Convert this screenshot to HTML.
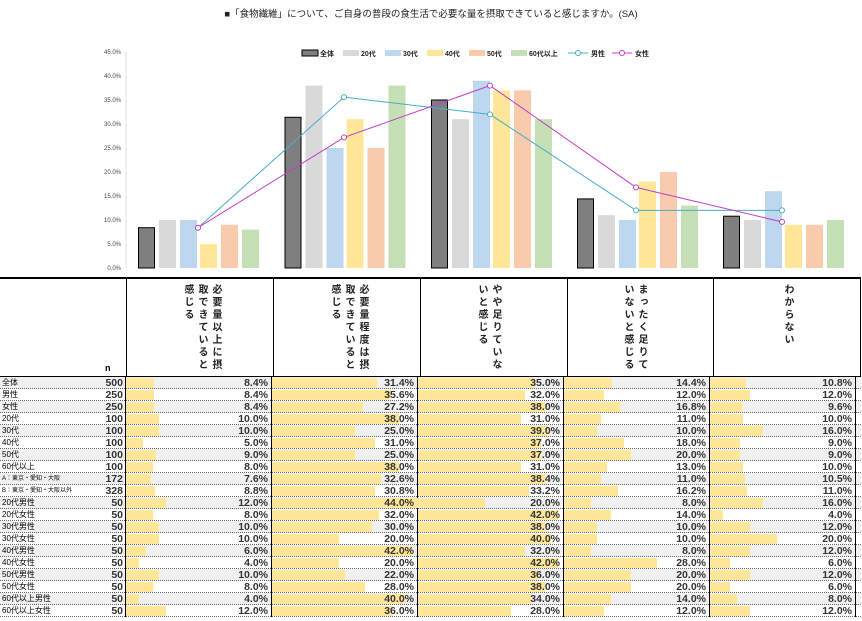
<!DOCTYPE html>
<html><head><meta charset="utf-8"><style>
body{margin:0;width:862px;height:619px;background:#fff;position:relative;overflow:hidden;font-family:"Liberation Sans","Noto Sans CJK JP",sans-serif}
#tbl{position:absolute;left:0;top:277px;width:861px;height:342px;border-top:2px solid #000}
.hd{position:absolute;left:0;top:0;width:861px;height:98px;border-bottom:1px solid #000;box-sizing:border-box}
.hc{position:absolute;top:5px;writing-mode:vertical-rl;font-size:10px;letter-spacing:2.5px;font-weight:bold;line-height:14px;height:88px;color:#222}
.r{position:absolute;left:0;width:861px;height:12px;display:flex;font-size:10.5px;line-height:12px}
.r:after{content:"";position:absolute;left:0;right:0;bottom:0;height:1px;background:repeating-linear-gradient(90deg,#666 0 1px,transparent 1px 2px)}
.r.g{background:#f0f0f0}
.l{width:93px;height:12px;font-size:8px;padding-left:2px;box-sizing:border-box;white-space:nowrap;overflow:hidden}
.n{width:33px;height:12px;text-align:right;padding-right:2px;box-sizing:border-box;border-right:1px solid #000;font-weight:bold;color:#333}
.c{width:146px;height:12px;position:relative;border-right:1px solid #000;text-align:right;font-weight:bold;color:#333;padding-right:3px;box-sizing:border-box}
.c i{position:absolute;left:0;top:1px;height:10px;background:#ffe699;z-index:0}
.c b{position:relative;z-index:1}
.vl{position:absolute;top:0;height:98px;border-left:1px solid #000}
</style></head><body>
<div style="position:absolute;left:0;top:6px;width:862px;text-align:center;font-size:9.5px;color:#222">■「食物繊維」について、ご自身の普段の食生活で必要な量を摂取できていると感じますか。(SA)</div>
<svg width="862" height="277" style="position:absolute;left:0;top:0" font-family="Liberation Sans" font-size="6" fill="#444">
<g text-anchor="end">
<text x="121" y="270">0.0%</text><text x="121" y="246">5.0%</text><text x="121" y="222">10.0%</text><text x="121" y="198">15.0%</text><text x="121" y="174">20.0%</text><text x="121" y="150">25.0%</text><text x="121" y="126">30.0%</text><text x="121" y="102">35.0%</text><text x="121" y="78">40.0%</text><text x="121" y="54">45.0%</text></g>
<line x1="126" y1="52" x2="126" y2="268" stroke="#ddd"/>
<g id="b">
<rect x="138.5" y="227.7" width="16" height="40.3" fill="#7f7f7f" stroke="#000"/><rect x="159" y="220" width="17" height="48" fill="#d9d9d9"/><rect x="180" y="220" width="17" height="48" fill="#bdd7ee"/><rect x="200" y="244" width="17" height="24" fill="#ffe699"/><rect x="221" y="224.8" width="17" height="43.2" fill="#f8cbad"/><rect x="242" y="229.6" width="17" height="38.4" fill="#c5e0b4"/>
<rect x="285" y="117.3" width="16" height="150.7" fill="#7f7f7f" stroke="#000"/><rect x="305.5" y="85.6" width="17" height="182.4" fill="#d9d9d9"/><rect x="326.5" y="148" width="17" height="120" fill="#bdd7ee"/><rect x="346.5" y="119.2" width="17" height="148.8" fill="#ffe699"/><rect x="367.5" y="148" width="17" height="120" fill="#f8cbad"/><rect x="388.5" y="85.6" width="17" height="182.4" fill="#c5e0b4"/>
<rect x="431.5" y="100" width="16" height="168" fill="#7f7f7f" stroke="#000"/><rect x="452" y="119.2" width="17" height="148.8" fill="#d9d9d9"/><rect x="473" y="80.8" width="17" height="187.2" fill="#bdd7ee"/><rect x="493" y="90.4" width="17" height="177.6" fill="#ffe699"/><rect x="514" y="90.4" width="17" height="177.6" fill="#f8cbad"/><rect x="535" y="119.2" width="17" height="148.8" fill="#c5e0b4"/>
<rect x="577.5" y="198.9" width="16" height="69.1" fill="#7f7f7f" stroke="#000"/><rect x="598" y="215.2" width="17" height="52.8" fill="#d9d9d9"/><rect x="619" y="220" width="17" height="48" fill="#bdd7ee"/><rect x="639" y="181.6" width="17" height="86.4" fill="#ffe699"/><rect x="660" y="172" width="17" height="96" fill="#f8cbad"/><rect x="681" y="205.6" width="17" height="62.4" fill="#c5e0b4"/>
<rect x="723.5" y="216.2" width="16" height="51.8" fill="#7f7f7f" stroke="#000"/><rect x="744" y="220" width="17" height="48" fill="#d9d9d9"/><rect x="765" y="191.2" width="17" height="76.8" fill="#bdd7ee"/><rect x="785" y="224.8" width="17" height="43.2" fill="#ffe699"/><rect x="806" y="224.8" width="17" height="43.2" fill="#f8cbad"/><rect x="827" y="220" width="17" height="48" fill="#c5e0b4"/>
</g>
<polyline points="198,227.7 344,97.1 490,114.4 636,210.4 782,210.4" fill="none" stroke="#4bacc6" stroke-width="1"/>
<polyline points="198,227.7 344,137.4 490,85.6 636,187.4 782,221.9" fill="none" stroke="#c040c8" stroke-width="1"/>
<g fill="#fff" stroke="#4bacc6"><circle cx="198" cy="227.7" r="2.5"/><circle cx="344" cy="97.1" r="2.5"/><circle cx="490" cy="114.4" r="2.5"/><circle cx="636" cy="210.4" r="2.5"/><circle cx="782" cy="210.4" r="2.5"/></g>
<g fill="#fff" stroke="#c040c8"><circle cx="198" cy="227.7" r="2.5"/><circle cx="344" cy="137.4" r="2.5"/><circle cx="490" cy="85.6" r="2.5"/><circle cx="636" cy="187.4" r="2.5"/><circle cx="782" cy="221.9" r="2.5"/></g>
<g font-size="7" font-weight="bold" fill="#222" font-family="Liberation Sans, Noto Sans CJK JP, sans-serif">
<rect x="302" y="50" width="16" height="6" fill="#7f7f7f" stroke="#000"/><text x="320" y="56">全体</text>
<rect x="343" y="50" width="16" height="6" fill="#d9d9d9"/><text x="361" y="56">20代</text>
<rect x="385" y="50" width="16" height="6" fill="#bdd7ee"/><text x="403" y="56">30代</text>
<rect x="427" y="50" width="16" height="6" fill="#ffe699"/><text x="445" y="56">40代</text>
<rect x="469" y="50" width="16" height="6" fill="#f8cbad"/><text x="487" y="56">50代</text>
<rect x="511" y="50" width="16" height="6" fill="#c5e0b4"/><text x="529" y="56">60代以上</text>
<line x1="568" y1="53" x2="588" y2="53" stroke="#4bacc6"/><circle cx="578" cy="53" r="2.5" fill="#fff" stroke="#4bacc6"/><text x="591" y="56">男性</text>
<line x1="612" y1="53" x2="632" y2="53" stroke="#c040c8"/><circle cx="622" cy="53" r="2.5" fill="#fff" stroke="#c040c8"/><text x="635" y="56">女性</text>
</g>
</svg>
<div id="tbl">
<div class="hd">
<div class="vl" style="left:126px"></div><div class="vl" style="left:273px"></div><div class="vl" style="left:420px"></div><div class="vl" style="left:567px"></div><div class="vl" style="left:713px"></div><div class="vl" style="left:860px"></div>
<div class="hc" style="left:180px">必要量以上に摂取できていると感じる</div>
<div class="hc" style="left:327px">必要量程度は摂取できていると感じる</div>
<div class="hc" style="left:474px">やや足りていないと感じる</div>
<div class="hc" style="left:620px">まったく足りていないと感じる</div>
<div class="hc" style="left:780px">わからない</div>
<div style="position:absolute;left:105px;top:84px;font-size:9px;font-weight:bold">n</div>
</div>
<div class="r g" style="top:98px"><div class="l">全体</div><div class="n">500</div><div class="c"><i style="width:28px"></i><b>8.4%</b></div><div class="c"><i style="width:105px"></i><b>31.4%</b></div><div class="c"><i style="width:117px"></i><b>35.0%</b></div><div class="c"><i style="width:48px"></i><b>14.4%</b></div><div class="c"><i style="width:36px"></i><b>10.8%</b></div></div>
<div class="r" style="top:110px"><div class="l">男性</div><div class="n">250</div><div class="c"><i style="width:28px"></i><b>8.4%</b></div><div class="c"><i style="width:119px"></i><b>35.6%</b></div><div class="c"><i style="width:107px"></i><b>32.0%</b></div><div class="c"><i style="width:40px"></i><b>12.0%</b></div><div class="c"><i style="width:40px"></i><b>12.0%</b></div></div>
<div class="r g" style="top:122px"><div class="l">女性</div><div class="n">250</div><div class="c"><i style="width:28px"></i><b>8.4%</b></div><div class="c"><i style="width:91px"></i><b>27.2%</b></div><div class="c"><i style="width:127px"></i><b>38.0%</b></div><div class="c"><i style="width:56px"></i><b>16.8%</b></div><div class="c"><i style="width:32px"></i><b>9.6%</b></div></div>
<div class="r" style="top:134px"><div class="l">20代</div><div class="n">100</div><div class="c"><i style="width:33px"></i><b>10.0%</b></div><div class="c"><i style="width:127px"></i><b>38.0%</b></div><div class="c"><i style="width:103px"></i><b>31.0%</b></div><div class="c"><i style="width:37px"></i><b>11.0%</b></div><div class="c"><i style="width:33px"></i><b>10.0%</b></div></div>
<div class="r g" style="top:146px"><div class="l">30代</div><div class="n">100</div><div class="c"><i style="width:33px"></i><b>10.0%</b></div><div class="c"><i style="width:83px"></i><b>25.0%</b></div><div class="c"><i style="width:130px"></i><b>39.0%</b></div><div class="c"><i style="width:33px"></i><b>10.0%</b></div><div class="c"><i style="width:53px"></i><b>16.0%</b></div></div>
<div class="r" style="top:158px"><div class="l">40代</div><div class="n">100</div><div class="c"><i style="width:17px"></i><b>5.0%</b></div><div class="c"><i style="width:103px"></i><b>31.0%</b></div><div class="c"><i style="width:123px"></i><b>37.0%</b></div><div class="c"><i style="width:60px"></i><b>18.0%</b></div><div class="c"><i style="width:30px"></i><b>9.0%</b></div></div>
<div class="r g" style="top:170px"><div class="l">50代</div><div class="n">100</div><div class="c"><i style="width:30px"></i><b>9.0%</b></div><div class="c"><i style="width:83px"></i><b>25.0%</b></div><div class="c"><i style="width:123px"></i><b>37.0%</b></div><div class="c"><i style="width:67px"></i><b>20.0%</b></div><div class="c"><i style="width:30px"></i><b>9.0%</b></div></div>
<div class="r" style="top:182px"><div class="l">60代以上</div><div class="n">100</div><div class="c"><i style="width:27px"></i><b>8.0%</b></div><div class="c"><i style="width:127px"></i><b>38.0%</b></div><div class="c"><i style="width:103px"></i><b>31.0%</b></div><div class="c"><i style="width:43px"></i><b>13.0%</b></div><div class="c"><i style="width:33px"></i><b>10.0%</b></div></div>
<div class="r g" style="top:194px"><div class="l" style="font-size:6px">A：東京・愛知・大阪</div><div class="n">172</div><div class="c"><i style="width:25px"></i><b>7.6%</b></div><div class="c"><i style="width:109px"></i><b>32.6%</b></div><div class="c"><i style="width:128px"></i><b>38.4%</b></div><div class="c"><i style="width:37px"></i><b>11.0%</b></div><div class="c"><i style="width:35px"></i><b>10.5%</b></div></div>
<div class="r" style="top:206px"><div class="l" style="font-size:6px">B：東京・愛知・大阪以外</div><div class="n">328</div><div class="c"><i style="width:29px"></i><b>8.8%</b></div><div class="c"><i style="width:103px"></i><b>30.8%</b></div><div class="c"><i style="width:111px"></i><b>33.2%</b></div><div class="c"><i style="width:54px"></i><b>16.2%</b></div><div class="c"><i style="width:37px"></i><b>11.0%</b></div></div>
<div class="r g" style="top:218px"><div class="l">20代男性</div><div class="n">50</div><div class="c"><i style="width:40px"></i><b>12.0%</b></div><div class="c"><i style="width:146px"></i><b>44.0%</b></div><div class="c"><i style="width:67px"></i><b>20.0%</b></div><div class="c"><i style="width:27px"></i><b>8.0%</b></div><div class="c"><i style="width:53px"></i><b>16.0%</b></div></div>
<div class="r" style="top:230px"><div class="l">20代女性</div><div class="n">50</div><div class="c"><i style="width:27px"></i><b>8.0%</b></div><div class="c"><i style="width:107px"></i><b>32.0%</b></div><div class="c"><i style="width:140px"></i><b>42.0%</b></div><div class="c"><i style="width:47px"></i><b>14.0%</b></div><div class="c"><i style="width:13px"></i><b>4.0%</b></div></div>
<div class="r g" style="top:242px"><div class="l">30代男性</div><div class="n">50</div><div class="c"><i style="width:33px"></i><b>10.0%</b></div><div class="c"><i style="width:100px"></i><b>30.0%</b></div><div class="c"><i style="width:127px"></i><b>38.0%</b></div><div class="c"><i style="width:33px"></i><b>10.0%</b></div><div class="c"><i style="width:40px"></i><b>12.0%</b></div></div>
<div class="r" style="top:254px"><div class="l">30代女性</div><div class="n">50</div><div class="c"><i style="width:33px"></i><b>10.0%</b></div><div class="c"><i style="width:67px"></i><b>20.0%</b></div><div class="c"><i style="width:133px"></i><b>40.0%</b></div><div class="c"><i style="width:33px"></i><b>10.0%</b></div><div class="c"><i style="width:67px"></i><b>20.0%</b></div></div>
<div class="r g" style="top:266px"><div class="l">40代男性</div><div class="n">50</div><div class="c"><i style="width:20px"></i><b>6.0%</b></div><div class="c"><i style="width:140px"></i><b>42.0%</b></div><div class="c"><i style="width:107px"></i><b>32.0%</b></div><div class="c"><i style="width:27px"></i><b>8.0%</b></div><div class="c"><i style="width:40px"></i><b>12.0%</b></div></div>
<div class="r" style="top:278px"><div class="l">40代女性</div><div class="n">50</div><div class="c"><i style="width:13px"></i><b>4.0%</b></div><div class="c"><i style="width:67px"></i><b>20.0%</b></div><div class="c"><i style="width:140px"></i><b>42.0%</b></div><div class="c"><i style="width:93px"></i><b>28.0%</b></div><div class="c"><i style="width:20px"></i><b>6.0%</b></div></div>
<div class="r g" style="top:290px"><div class="l">50代男性</div><div class="n">50</div><div class="c"><i style="width:33px"></i><b>10.0%</b></div><div class="c"><i style="width:73px"></i><b>22.0%</b></div><div class="c"><i style="width:120px"></i><b>36.0%</b></div><div class="c"><i style="width:67px"></i><b>20.0%</b></div><div class="c"><i style="width:40px"></i><b>12.0%</b></div></div>
<div class="r" style="top:302px"><div class="l">50代女性</div><div class="n">50</div><div class="c"><i style="width:27px"></i><b>8.0%</b></div><div class="c"><i style="width:93px"></i><b>28.0%</b></div><div class="c"><i style="width:127px"></i><b>38.0%</b></div><div class="c"><i style="width:67px"></i><b>20.0%</b></div><div class="c"><i style="width:20px"></i><b>6.0%</b></div></div>
<div class="r g" style="top:314px"><div class="l">60代以上男性</div><div class="n">50</div><div class="c"><i style="width:13px"></i><b>4.0%</b></div><div class="c"><i style="width:133px"></i><b>40.0%</b></div><div class="c"><i style="width:113px"></i><b>34.0%</b></div><div class="c"><i style="width:47px"></i><b>14.0%</b></div><div class="c"><i style="width:27px"></i><b>8.0%</b></div></div>
<div class="r" style="top:326px"><div class="l">60代以上女性</div><div class="n">50</div><div class="c"><i style="width:40px"></i><b>12.0%</b></div><div class="c"><i style="width:120px"></i><b>36.0%</b></div><div class="c"><i style="width:93px"></i><b>28.0%</b></div><div class="c"><i style="width:40px"></i><b>12.0%</b></div><div class="c"><i style="width:40px"></i><b>12.0%</b></div></div>
</div>
</body></html>
